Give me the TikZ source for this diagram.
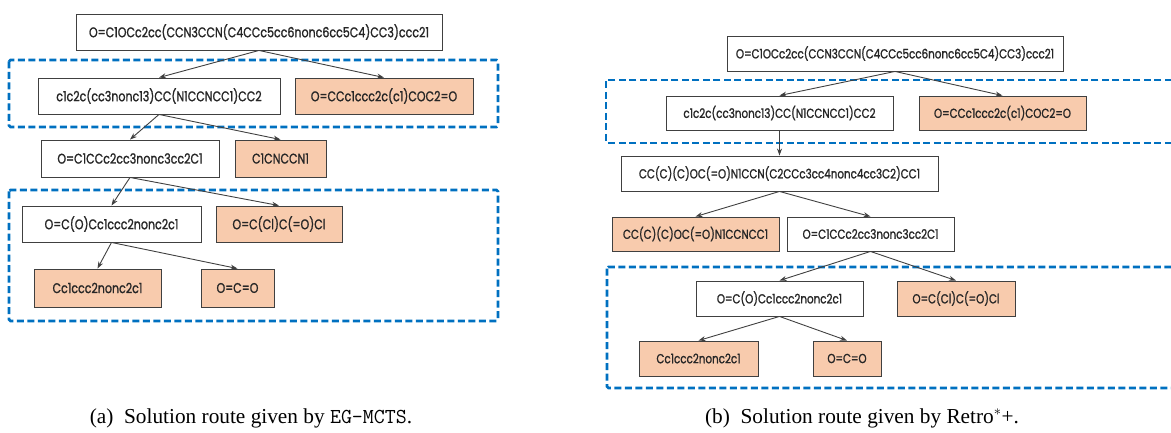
\documentclass[tikz,border=0pt]{standalone}
\usepackage{fontspec}
\setmainfont{Liberation Serif}
\newfontfamily\smiles[FakeStretch=0.79,FakeBold=1.2]{Poppins}
\usetikzlibrary{arrows.meta}
\definecolor{boxline}{HTML}{404040}
\definecolor{orangefill}{HTML}{F8CBAD}
\definecolor{dashblue}{HTML}{0070C0}
\tikzset{
  mol/.style={draw=boxline, line width=0.9pt, fill=white, inner sep=0pt,
    font=\smiles\fontsize{14}{16}\selectfont, text=black!85},
  leaf/.style={mol, fill=orangefill},
  molr/.style={mol, font=\smiles\fontsize{13.1}{15}\selectfont},
  leafr/.style={molr, fill=orangefill},
  link/.style={draw=boxline, line width=0.9pt, -{Stealth[length=7pt,width=5pt]}},
  group/.style={draw=dashblue, line width=2.6pt, dash pattern=on 7pt off 3.5pt, rounded corners=1.5pt},
  captext/.style={font=\fontsize{21.3}{24}\selectfont, anchor=base}
}
\begin{document}
\begin{tikzpicture}[x=1pt,y=-1pt]
\useasboundingbox (0,0) rectangle (1171,433);
% ---------- left panel ----------
\draw[group] (9,60) rectangle (498,127);
\draw[group] (9,190) rectangle (498,321);
\node[mol, minimum width=366pt, minimum height=36pt] (a0) at (259,32) {O=C1OCc2cc(CCN3CCN(C4CCc5cc6nonc6cc5C4)CC3)ccc21};
\node[mol, minimum width=242pt, minimum height=36pt] (a1) at (159,96) {c1c2c(cc3nonc13)CC(N1CCNCC1)CC2};
\node[leaf, minimum width=178pt, minimum height=36pt] (a2) at (384,96) {O=CCc1ccc2c(c1)COC2=O};
\node[mol, minimum width=178pt, minimum height=37pt] (a3) at (130,158.5) {O=C1CCc2cc3nonc3cc2C1};
\node[leaf, minimum width=91pt, minimum height=37pt] (a4) at (280.5,158.5) {C1CNCCN1};
\node[mol, minimum width=179pt, minimum height=36pt] (a5) at (111.5,224) {O=C(O)Cc1ccc2nonc2c1};
\node[leaf, minimum width=126pt, minimum height=36pt] (a6) at (279,224) {O=C(Cl)C(=O)Cl};
\node[leaf, minimum width=127pt, minimum height=38pt] (a7) at (97.5,288) {Cc1ccc2nonc2c1};
\node[leaf, minimum width=73pt, minimum height=38pt] (a8) at (237.5,288) {O=C=O};
\draw[link] (a0.south) -- (a1.north);
\draw[link] (a0.south) -- (a2.north);
\draw[link] (a1.south) -- (a3.north);
\draw[link] (a1.south) -- (a4.north);
\draw[link] (a3.south) -- (a5.north);
\draw[link] (a3.south) -- (a6.north);
\draw[link] (a5.south) -- (a7.north);
\draw[link] (a5.south) -- (a8.north);
\node[captext] (capa) at (251,423) {(a)\hspace{0.5em}Solution route given by \texttt{EG-MCTS}.};
% ---------- right panel ----------
\draw[group] (606,80) rectangle (1185,143);
\draw[group] (607,267) rectangle (1185,388);
\node[molr, minimum width=336pt, minimum height=35pt] (b0) at (895,53.5) {O=C1OCc2cc(CCN3CCN(C4CCc5cc6nonc6cc5C4)CC3)ccc21};
\node[molr, minimum width=227pt, minimum height=34pt] (b1) at (779.5,113) {c1c2c(cc3nonc13)CC(N1CCNCC1)CC2};
\node[leafr, minimum width=167pt, minimum height=34pt] (b2) at (1002.5,113) {O=CCc1ccc2c(c1)COC2=O};
\node[molr, minimum width=317pt, minimum height=35pt] (b3) at (779.5,173.5) {CC(C)(C)OC(=O)N1CCN(C2CCc3cc4nonc4cc3C2)CC1};
\node[leafr, minimum width=167pt, minimum height=34pt] (b4) at (695.5,234) {CC(C)(C)OC(=O)N1CCNCC1};
\node[molr, minimum width=167pt, minimum height=34pt] (b5) at (870.5,234) {O=C1CCc2cc3nonc3cc2C1};
\node[molr, minimum width=167pt, minimum height=35pt] (b6) at (779.5,298.5) {O=C(O)Cc1ccc2nonc2c1};
\node[leafr, minimum width=118pt, minimum height=35pt] (b7) at (956,298.5) {O=C(Cl)C(=O)Cl};
\node[leafr, minimum width=119pt, minimum height=35pt] (b8) at (698.5,358.5) {Cc1ccc2nonc2c1};
\node[leafr, minimum width=68pt, minimum height=35pt] (b9) at (847,358.5) {O=C=O};
\draw[link] (b0.south) -- (b1.north);
\draw[link] (b0.south) -- (b2.north);
\draw[link] (b1.south) -- (b3.north);
\draw[link] (b3.south) -- (b4.north);
\draw[link] (b3.south) -- (b5.north);
\draw[link] (b5.south) -- (b6.north);
\draw[link] (b5.south) -- (b7.north);
\draw[link] (b6.south) -- (b8.north);
\draw[link] (b6.south) -- (b9.north);
\node[captext] (capb) at (862,423) {(b)\hspace{0.5em}Solution route given by Retro$^{*}$+.};
\end{tikzpicture}
\end{document}
